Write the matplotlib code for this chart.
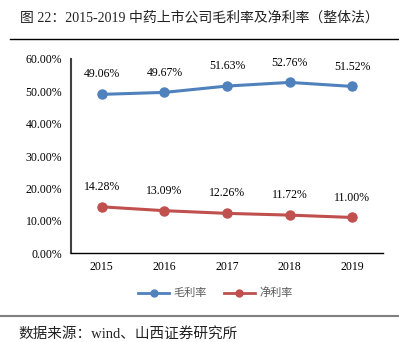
import matplotlib.pyplot as plt
from matplotlib.lines import Line2D

years = ['2015', '2016', '2017', '2018', '2019']
gross_margin = [49.06, 49.67, 51.63, 52.76, 51.52]
net_margin = [14.28, 13.09, 12.26, 11.72, 11.00]
yticks = [0, 10, 20, 30, 40, 50, 60]

serif = ['Liberation Serif', 'Noto Sans CJK SC']
cjk = ['Noto Sans CJK SC', 'DejaVu Sans']
blue = '#4F81BD'
red = '#C0504D'

fig = plt.figure(figsize=(3.99, 3.42), dpi=100)
ax = fig.add_axes([0.1767, 0.2602, 0.7843, 0.5673])

x = range(len(years))
ax.plot(x, gross_margin, color=blue, lw=2.2, marker='o', ms=6.5)
ax.plot(x, net_margin, color=red, lw=2.2, marker='o', ms=6.5)

for i, v in enumerate(gross_margin):
    ax.annotate(f'{v:.2f}%', (i, v), xytext=(0, 10), textcoords='offset points',
                ha='center', va='bottom', fontsize=8.5, family=serif)
for i, v in enumerate(net_margin):
    ax.annotate(f'{v:.2f}%', (i, v), xytext=(0, 10), textcoords='offset points',
                ha='center', va='bottom', fontsize=8.5, family=serif)

ax.set_xlim(-0.5, len(years) - 0.5)
ax.set_ylim(0, 60)
ax.set_xticks(list(x))
ax.set_xticklabels(years, family=serif, fontsize=8.5)
ax.set_yticks(yticks)
ax.set_yticklabels([f'{t:.2f}%' for t in yticks], family=serif, fontsize=8.5)
ax.tick_params(length=0, pad=6)
for s in ['top', 'right']:
    ax.spines[s].set_visible(False)
ax.spines['left'].set_color('#404040')
ax.spines['left'].set_linewidth(1.5)
ax.spines['bottom'].set_color('black')
ax.spines['bottom'].set_linewidth(1.0)

handles = [Line2D([], [], color=blue, lw=2, marker='o', ms=5),
           Line2D([], [], color=red, lw=2, marker='o', ms=5)]
fig.legend(handles, ['毛利率', '净利率'], loc='center', bbox_to_anchor=(0.54, 0.143),
           ncol=2, frameon=False, prop={'family': cjk, 'size': 8},
           handlelength=2.8, columnspacing=1.5, handletextpad=0.4, labelcolor='#595959')

fig.text(0.05, 0.947, '图 22：2015-2019 中药上市公司毛利率及净利率（整体法）',
         fontsize=10, family=['Liberation Serif', 'Noto Sans CJK SC'], va='center', color='#222222')
fig.add_artist(Line2D([0.025, 1.0], [0.886, 0.886], color='black', lw=1.0))
fig.add_artist(Line2D([0.0, 1.0], [0.076, 0.076], color='#808080', lw=1.5))
fig.text(0.045, 0.025, '数据来源：wind、山西证券研究所', fontsize=10.5,
         family=['Liberation Serif', 'Noto Sans CJK SC'], va='center', color='#222222')

fig.savefig('out.png', dpi=100)
